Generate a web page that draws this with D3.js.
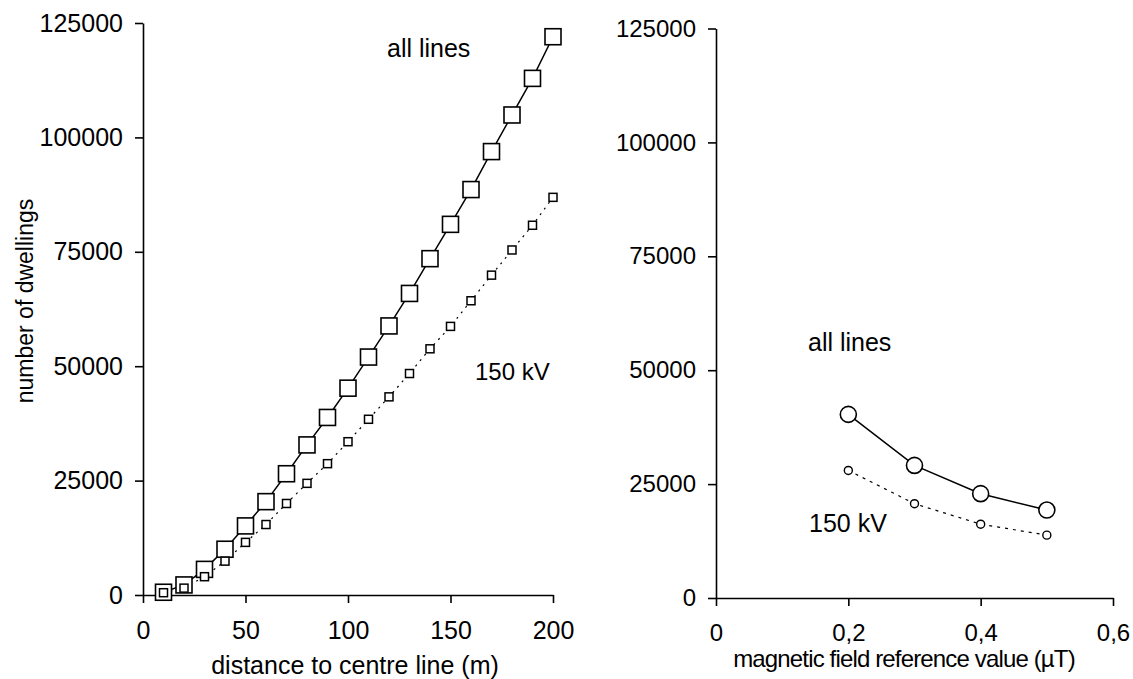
<!DOCTYPE html>
<html>
<head>
<meta charset="utf-8">
<script src="https://cdn.jsdelivr.net/npm/d3@7"></script>
<style>
	body { margin: 0; background: #fff; }
	#chart { width: 1133px; height: 679px; }
	text { font-family: "Liberation Sans", Arial, sans-serif; fill: #000; }
</style>
</head>
<body>
<div id="chart"></div>
<script>
// left panel: number of dwellings by distance to centre line
var distances = [10, 20, 30, 40, 50, 60, 70, 80, 90, 100, 110, 120, 130, 140, 150, 160, 170, 180, 190, 200];
var allLinesDist = [600, 2200, 5600, 10000, 15100, 20400, 26500, 32800, 38800, 45200, 52000, 58800, 65900, 73500, 81000, 88600, 96900, 104900, 112900, 122000];
var kv150Dist = [500, 1500, 4000, 7400, 11500, 15400, 20000, 24400, 28700, 33500, 38400, 43300, 48400, 53800, 58700, 64300, 69900, 75400, 80800, 86900];

// right panel: number of dwellings by magnetic field reference value
var fieldValues = [0.2, 0.3, 0.4, 0.5];
var allLinesField = [40300, 29100, 22900, 19300];
var kv150Field = [28000, 20700, 16200, 13800];

var yTicks = [0, 25000, 50000, 75000, 100000, 125000];
var xTicksLeft = [0, 50, 100, 150, 200];
var xTicksRight = [0, 0.2, 0.4, 0.6];

var width = 1133, height = 679;
var svg = d3.select("#chart")
	.append("svg")
	.attr("width", width)
	.attr("height", height);

var xL = d3.scaleLinear().domain([0, 200]).range([143, 553]);
var yL = d3.scaleLinear().domain([0, 125000]).range([595, 23]);
var xR = d3.scaleLinear().domain([0, 0.6]).range([716, 1113]);
var yR = d3.scaleLinear().domain([0, 125000]).range([598, 28.5]);

function drawAxes(x, y, xTicks, fmt, fontSize) {
	var gy = svg.append("g")
		.attr("transform", "translate(" + x.range()[0] + ",0)")
		.call(d3.axisLeft(y).tickValues(yTicks).tickSize(8).tickSizeOuter(0).tickPadding(12).tickFormat(d3.format("d")));
	var gx = svg.append("g")
		.attr("transform", "translate(0," + y.range()[0] + ")")
		.call(d3.axisBottom(x).tickValues(xTicks).tickSize(8).tickSizeOuter(0).tickPadding(18).tickFormat(fmt));
	[gy, gx].forEach(function(g) {
		g.selectAll("path, line").attr("stroke", "#000").attr("stroke-width", 1.6);
		g.selectAll("text").style("font-size", fontSize).attr("fill", "#000");
	});
}

drawAxes(xL, yL, xTicksLeft, d3.format("d"), "25px");
drawAxes(xR, yR, xTicksRight, function(d) { return d === 0 ? "0" : d.toFixed(1).replace(".", ","); }, "24px");

// left panel lines
var lineL = d3.line()
	.x(function(d) { return xL(d[0]); })
	.y(function(d) { return yL(d[1]); });

var allL = distances.map(function(d, i) { return [d, allLinesDist[i]]; });
var kvL = distances.map(function(d, i) { return [d, kv150Dist[i]]; });

svg.append("path")
	.datum(allL)
	.attr("d", lineL)
	.attr("fill", "none")
	.attr("stroke", "#000")
	.attr("stroke-width", 1.5);

svg.append("path")
	.datum(kvL)
	.attr("d", lineL)
	.attr("fill", "none")
	.attr("stroke", "#000")
	.attr("stroke-width", 1.2)
	.attr("stroke-dasharray", "2,5");

svg.selectAll("rect.big")
	.data(allL)
	.enter()
	.append("rect")
	.attr("class", "big")
	.attr("x", function(d) { return xL(d[0]) - 8; })
	.attr("y", function(d) { return yL(d[1]) - 8; })
	.attr("width", 16)
	.attr("height", 16)
	.attr("fill", "#fff")
	.attr("stroke", "#000")
	.attr("stroke-width", 1.6);

svg.selectAll("rect.small")
	.data(kvL)
	.enter()
	.append("rect")
	.attr("class", "small")
	.attr("x", function(d) { return xL(d[0]) - 4; })
	.attr("y", function(d) { return yL(d[1]) - 4; })
	.attr("width", 8)
	.attr("height", 8)
	.attr("fill", "#fff")
	.attr("stroke", "#000")
	.attr("stroke-width", 1.5);

// right panel lines
var lineR = d3.line()
	.x(function(d) { return xR(d[0]); })
	.y(function(d) { return yR(d[1]); });

var allR = fieldValues.map(function(d, i) { return [d, allLinesField[i]]; });
var kvR = fieldValues.map(function(d, i) { return [d, kv150Field[i]]; });

svg.append("path")
	.datum(allR)
	.attr("d", lineR)
	.attr("fill", "none")
	.attr("stroke", "#000")
	.attr("stroke-width", 1.5);

svg.append("path")
	.datum(kvR)
	.attr("d", lineR)
	.attr("fill", "none")
	.attr("stroke", "#000")
	.attr("stroke-width", 1.2)
	.attr("stroke-dasharray", "3,5");

svg.selectAll("circle.big")
	.data(allR)
	.enter()
	.append("circle")
	.attr("class", "big")
	.attr("cx", function(d) { return xR(d[0]); })
	.attr("cy", function(d) { return yR(d[1]); })
	.attr("r", 8)
	.attr("fill", "#fff")
	.attr("stroke", "#000")
	.attr("stroke-width", 1.6);

svg.selectAll("circle.small")
	.data(kvR)
	.enter()
	.append("circle")
	.attr("class", "small")
	.attr("cx", function(d) { return xR(d[0]); })
	.attr("cy", function(d) { return yR(d[1]); })
	.attr("r", 4)
	.attr("fill", "#fff")
	.attr("stroke", "#000")
	.attr("stroke-width", 1.4);

// annotations
svg.append("text").attr("x", 387).attr("y", 57).style("font-size", "25px").text("all lines");
svg.append("text").attr("x", 475).attr("y", 380).style("font-size", "24px").text("150 kV");
svg.append("text").attr("x", 808).attr("y", 351).style("font-size", "25px").text("all lines");
svg.append("text").attr("x", 809).attr("y", 532).style("font-size", "25px").text("150 kV");

// axis titles
svg.append("text")
	.attr("transform", "translate(33,301) rotate(-90)")
	.attr("text-anchor", "middle")
	.style("font-size", "23px")
	.text("number of dwellings");
svg.append("text")
	.attr("x", 355)
	.attr("y", 674)
	.attr("text-anchor", "middle")
	.style("font-size", "25px")
	.text("distance to centre line (m)");
svg.append("text")
	.attr("x", 904)
	.attr("y", 667)
	.attr("text-anchor", "middle")
	.style("font-size", "24px")
	.style("letter-spacing", "-0.85px")
	.text("magnetic field reference value (\u00b5T)");
</script>
</body>
</html>
